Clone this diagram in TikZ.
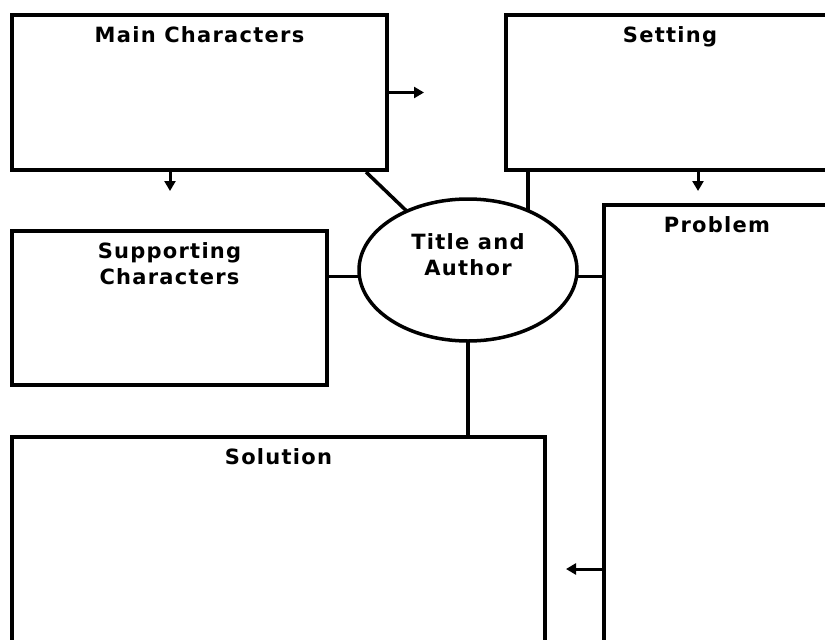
\documentclass[tikz,border=0pt]{standalone}
\usepackage{fontspec}
\setmainfont{DejaVu Sans}
\newfontfamily\headfont{DejaVu Sans}[LetterSpace=6]
\usetikzlibrary{positioning,shapes.geometric,arrows.meta,backgrounds}

\tikzset{
  panel/.style={draw, line width=4pt, fill=white, inner sep=0pt, anchor=north west},
  heading/.style={font=\headfont\bfseries\fontsize{21}{26}\selectfont, align=center, inner sep=0pt},
  link/.style={line width=3.5pt},
  pointer/.style={line width=3pt, -{Triangle[length=10pt,width=11pt]}}
}

\begin{document}
\begin{tikzpicture}[x=1pt,y=-1pt]
  \useasboundingbox (0,0) rectangle (825,640);
  \clip (0,0) rectangle (825,640);
  % boxes
  \node[panel, minimum width=375pt, minimum height=155pt] (main) at (10,13) {};
  \node[panel, minimum width=328pt, minimum height=155pt] (setting) at (504,13) {};
  \node[panel, minimum width=315pt, minimum height=154pt] (support) at (10,229) {};
  \node[panel, minimum width=226pt, minimum height=480pt] (problem) at (602,203) {};
  \node[panel, minimum width=533pt, minimum height=260pt] (solution) at (10,435) {};
  \node[draw, ellipse, line width=3.5pt, fill=white, minimum width=218pt, minimum height=142pt] (title) at (468,270) {};
  % headings
  \node[heading, below=13pt of main.north] (mainhead) {Main Characters};
  \node[heading, below=13pt of setting.north] (settinghead) {Setting};
  \node[heading, below=13pt of support.north] (supporthead) {Supporting\\Characters};
  \node[heading, below=13pt of problem.north] (problemhead) {Problem};
  \node[heading, below=13pt of solution.north] (solutionhead) {Solution};
  \node[heading] (titlehead) at ([yshift=15pt]title.center) {Title and\\Author};
  % connectors
  \begin{pgfonlayer}{background}
    \draw[link] (main.south east) ++(-23,0) -- (title.center);
    \draw[link] (setting.south west) ++(24,0) coordinate (settinglink) -- (settinglink |- title.center);
    \draw[link] (support.east |- titlehead.south) -- (title.center |- titlehead.south) -- (problem.west |- titlehead.south);
    \draw[link] (title.center) -- (title.center |- solution.north);
  \end{pgfonlayer}
  \draw[pointer] (main.east) -- ++(35,0);
  \draw[pointer] (main.south west) ++(160,0) -- ++(0,19);
  \draw[pointer] (setting.south west) ++(194,0) -- ++(0,19);
  \draw[pointer] (problem.north west) ++(0,366) -- ++(-36,0);
\end{tikzpicture}
\end{document}
